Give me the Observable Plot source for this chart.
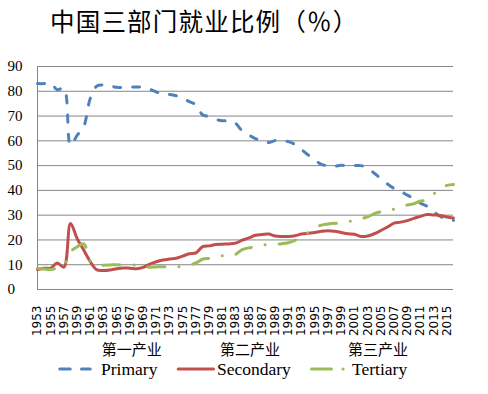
<!DOCTYPE html>
<html>
<head>
<meta charset="utf-8">
<script src="https://cdn.jsdelivr.net/npm/d3@7"></script>
<script src="https://cdn.jsdelivr.net/npm/@observablehq/plot@0.6"></script>
<style>
  html, body { margin: 0; padding: 0; background: #fff; }
  #wrap { width: 488px; height: 394px; overflow: hidden; position: relative; }
  #title { height: 50px; box-sizing: border-box; padding-top: 4px; padding-left: 50px; letter-spacing: 1.2px;
           font-family: "Noto Sans CJK SC", sans-serif; font-size: 24.5px; line-height: 34px; color: #000; white-space: nowrap; }
  #chart svg { display: block; }
  #legend { display: block; margin-top: -8px; overflow: visible; }
</style>
</head>
<body>
<div id="wrap">
  <div id="title">中国三部门就业比例（％）</div>
  <div id="chart"></div>
  <div id="legendBox"></div>
</div>
<script>
const years = [1953,1954,1955,1956,1957,1958,1959,1960,1961,1962,1963,1964,1965,1966,1967,1968,1969,1970,
  1971,1972,1973,1974,1975,1976,1977,1978,1979,1980,1981,1982,1983,1984,1985,1986,1987,1988,1989,1990,
  1991,1992,1993,1994,1995,1996,1997,1998,1999,2000,2001,2002,2003,2004,2005,2006,2007,2008,2009,2010,
  2011,2012,2013,2014,2015,2016];
const primary = [83.1,83.1,83.3,80.6,81.2,58.2,62.2,65.7,77.2,82.1,82.5,82.2,81.6,81.5,81.7,81.7,81.6,80.8,
  79.7,78.9,78.7,78.2,77.2,75.8,74.5,70.5,69.8,68.7,68.1,68.1,67.1,64.0,62.4,60.9,60.0,59.3,60.1,60.1,
  59.7,58.5,56.4,54.3,52.2,50.5,49.9,49.8,50.1,50.0,50.0,50.0,49.1,46.9,44.8,42.6,40.8,39.6,38.1,36.7,
  34.8,33.6,31.4,29.5,28.3,27.9];
const secondary = [8.0,8.6,8.6,10.7,9.0,26.6,20.6,15.9,11.2,7.9,7.7,7.9,8.4,8.7,8.6,8.4,8.9,10.2,
  11.2,11.9,12.3,12.6,13.5,14.4,14.8,17.3,17.6,18.2,18.3,18.4,18.7,19.9,20.8,21.9,22.2,22.4,21.6,21.4,
  21.4,21.7,22.4,22.7,23.0,23.5,23.7,23.5,23.0,22.5,22.3,21.4,21.6,22.5,23.8,25.2,26.8,27.2,27.8,28.7,
  29.5,30.3,30.1,29.9,29.3,28.9];
const tertiary = [8.6,8.3,8.1,8.7,9.8,15.2,17.2,18.4,11.6,10.0,9.8,9.9,10.0,9.8,9.7,9.9,9.5,9.0,
  9.1,9.2,9.0,9.2,9.3,9.8,10.7,12.2,12.6,13.1,13.6,13.5,14.2,16.1,16.8,17.2,17.8,18.3,18.3,18.5,
  18.9,19.8,21.2,23.0,24.8,26.0,26.4,26.7,26.9,27.5,27.7,28.6,29.3,30.6,31.4,32.2,32.4,33.2,34.1,34.6,
  35.7,36.1,38.5,40.6,42.0,42.4];
const yTicks = [0,10,20,30,40,50,60,70,80,90];
const xTickYears = [1953,1955,1957,1959,1961,1963,1965,1967,1969,1971,1973,1975,1977,1979,1981,1983,1985,
  1987,1989,1991,1993,1995,1997,1999,2001,2003,2005,2007,2009,2011,2013,2015];
const seriesNames = ["Primary","Secondary","Tertiary"];
const seriesCn = ["第一产业","第二产业","第三产业"];
const seriesColors = ["#4F81BD","#C0504D","#9BBB59"];

const seriesValues = [primary, secondary, tertiary];
const rows = [];
seriesValues.forEach((vals, si) => vals.forEach((v, i) => rows.push({year: years[i], value: v, series: seriesNames[si]})));
const bySeries = name => rows.filter(r => r.series === name);

const dashes = ["7,12", null, "17,14,0.1,14"];

const plot = Plot.plot({
  width: 488, height: 292,
  marginTop: 16, marginBottom: 53, marginLeft: 37, marginRight: 35,
  x: {type: "linear", domain: [1953, 2016], label: null},
  y: {domain: [0, 90], axis: null},
  style: {background: "#fff", color: "#000"},
  marks: [
    Plot.ruleY(yTicks, {stroke: "#868686", strokeWidth: 1}),
    Plot.ruleX([1953], {stroke: "#868686", strokeWidth: 1}),
    Plot.text(yTicks, {y: d => d, text: d => String(d), frameAnchor: "left", dx: -30, textAnchor: "start",
      fontSize: 15, fontFamily: "Liberation Serif", fill: "#000"}),
    Plot.axisX(xTickYears, {tickRotate: -90, tickSize: 0, tickPadding: 16, tickFormat: d => String(d),
      label: null, fontSize: 12, fontFamily: "DejaVu Sans", fill: "#000"}),
    ...seriesNames.map((name, si) => Plot.line(bySeries(name), {
      x: "year", y: "value", stroke: seriesColors[si], strokeWidth: 3,
      strokeDasharray: dashes[si] || undefined, strokeLinecap: "round", strokeLinejoin: "round",
      curve: "catmull-rom"
    }))
  ]
});
document.getElementById("chart").appendChild(plot);

// Legend (svg starts 8px higher, at page y = 334)
const lg = d3.select("#legendBox").append("svg").attr("id", "legend").attr("width", 488).attr("height", 60);
const cnX = [101.7, 220, 348];
const enX = [101, 217, 352];
const lineSamples = [
  {x1: 59.8, x2: 90.2, dash: "10.4,11.3"},
  {x1: 178.2, x2: 213.5, dash: null},
  {x1: 311.5, x2: 343.1, dash: "20,11.5,0.1,40"}
];
seriesNames.forEach((name, i) => {
  const s = lineSamples[i];
  lg.append("line").attr("x1", s.x1).attr("x2", s.x2).attr("y1", 35).attr("y2", 35)
    .attr("stroke", seriesColors[i]).attr("stroke-width", 3).attr("stroke-linecap", "round")
    .attr("stroke-dasharray", s.dash);
  lg.append("text").attr("x", cnX[i]).attr("y", 20.5).attr("font-family", "Noto Sans CJK SC")
    .attr("font-size", 15).attr("fill", "#000").text(seriesCn[i]);
  lg.append("text").attr("x", enX[i]).attr("y", 40.5).attr("font-family", "Liberation Serif")
    .attr("font-size", 17.5).attr("fill", "#000").text(name);
});
</script>
</body>
</html>
